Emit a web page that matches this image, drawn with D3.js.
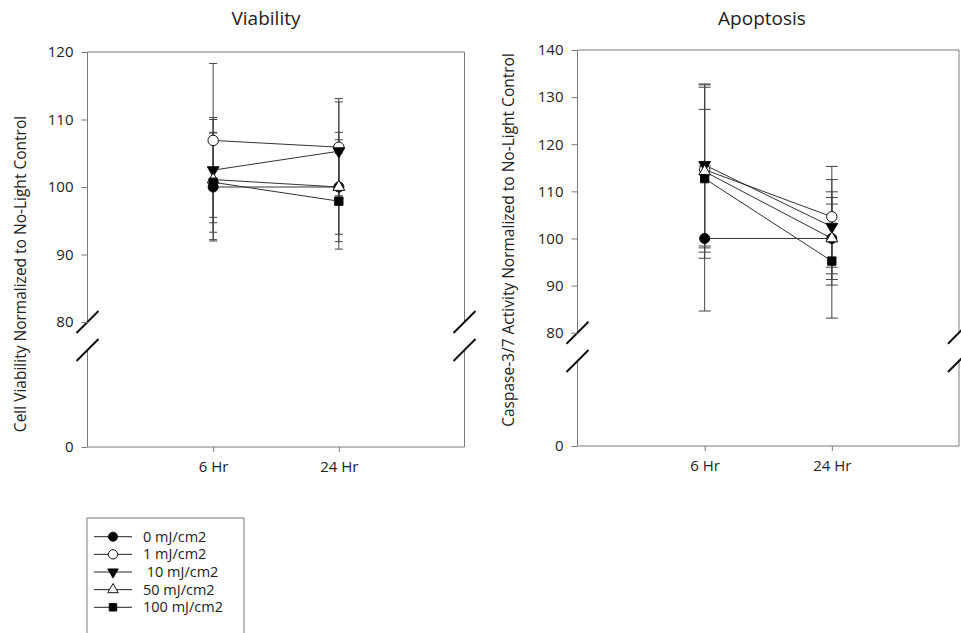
<!DOCTYPE html>
<html>
<head>
<meta charset="utf-8">
<script src="https://cdn.jsdelivr.net/npm/d3@7"></script>
<style>
  body { margin: 0; background: #fff; }
  svg text { font-family: "Open Sans", sans-serif; }
</style>
</head>
<body>
<svg id="chart" width="961" height="633"></svg>
<script>
// Data
const times = ["6 Hr", "24 Hr"];
const doses = ["0 mJ/cm2", "1 mJ/cm2", " 10 mJ/cm2", "50 mJ/cm2", "100 mJ/cm2"];

// Viability (values at 6 Hr, 24 Hr) and +/- error
const viab0 = [100.0, 100.0],   viabErr0 = [8.0, 7.0];
const viab1 = [106.9, 105.9],   viabErr1 = [11.4, 7.2];
const viab10 = [102.5, 105.3],  viabErr10 = [7.8, 7.3];
const viab50 = [101.1, 100.0],  viabErr50 = [8.9, 8.1];
const viab100 = [100.7, 97.9],  viabErr100 = [7.4, 7.1];

// Caspase-3/7 activity
const casp0 = [100.0, 100.0],   caspErr0 = [15.4, 8.7];
const casp1 = [114.6, 104.6],   caspErr1 = [17.5, 10.7];
const casp10 = [115.6, 102.5],  caspErr10 = [17.2, 10.0];
const casp50 = [114.2, 100.0],  caspErr50 = [18.4, 9.9];
const casp100 = [112.7, 95.2],  caspErr100 = [14.7, 12.1];

const viabTicks = [80, 90, 100, 110, 120];
const caspTicks = [80, 90, 100, 110, 120, 130, 140];

const markers = [
  { type: d3.symbolCircle, size: 80, fill: "#000", rot: 0 },
  { type: d3.symbolCircle, size: 85, fill: "#fff", rot: 0 },
  { type: d3.symbolTriangle, size: 60, fill: "#000", rot: 180 },
  { type: d3.symbolTriangle, size: 60, fill: "#fff", rot: 0 },
  { type: d3.symbolSquare, size: 70, fill: "#000", rot: 0 }
];

const svg = d3.select("#chart");

function drawPanel(p) {
  const g = svg.append("g");
  const x = d3.scalePoint().domain(times).range([p.left, p.right]).padding(1);
  const yUp = d3.scaleLinear().domain([80, p.ticks[p.ticks.length - 1]]).range([p.y80, p.top]);
  const yLow = d3.scaleLinear().domain([0, 40]).range([p.y0, p.lowTop]);
  const y = v => (v >= 80 ? yUp(v) : yLow(v));

  // frame with break gaps
  const fc = "#7a7a7a";
  g.append("line").attr("x1", p.left).attr("x2", p.right).attr("y1", p.top).attr("y2", p.top).attr("stroke", fc);
  g.append("line").attr("x1", p.left).attr("x2", p.right).attr("y1", p.y0).attr("y2", p.y0).attr("stroke", fc);
  [p.left, p.right].forEach(xx => {
    g.append("line").attr("x1", xx).attr("x2", xx).attr("y1", p.top).attr("y2", p.y80).attr("stroke", fc);
    g.append("line").attr("x1", xx).attr("x2", xx).attr("y1", p.lowTop).attr("y2", p.y0).attr("stroke", fc);
    [p.y80, p.lowTop].forEach(yy => {
      g.append("line")
        .attr("x1", xx - 11).attr("y1", yy + 11)
        .attr("x2", xx + 11).attr("y2", yy - 11)
        .attr("stroke", "#111").attr("stroke-width", 2);
    });
  });

  // axes
  const axUp = g.append("g").attr("transform", `translate(${p.left},0)`)
    .call(d3.axisLeft(yUp).tickValues(p.ticks).tickSize(6).tickPadding(8));
  const axLow = g.append("g").attr("transform", `translate(${p.left},0)`)
    .call(d3.axisLeft(yLow).tickValues([0]).tickSize(6).tickPadding(8));
  const axX = g.append("g").attr("transform", `translate(0,${p.y0})`)
    .call(d3.axisBottom(x).tickSize(5).tickPadding(9));
  [axUp, axLow, axX].forEach(a => {
    a.attr("font-family", null).attr("font-size", 15);
    a.select(".domain").remove();
    a.selectAll(".tick line").attr("stroke", fc);
    a.selectAll(".tick text").attr("fill", "#222");
  });

  // title and y label
  g.append("text").attr("x", p.titleX).attr("y", 25).attr("text-anchor", "middle")
    .attr("font-size", 19).attr("fill", "#222").text(p.title);
  g.append("text")
    .attr("transform", `translate(${p.labelX},${p.labelY}) rotate(-90)`)
    .attr("text-anchor", "middle").attr("font-size", 15.5).attr("fill", "#222")
    .text(p.ylabel);

  // connecting lines
  const line = d3.line().x((d, i) => x(times[i])).y(d => y(d));
  p.series.forEach(s => {
    g.append("path").attr("d", line(s.vals)).attr("fill", "none")
      .attr("stroke", "#333").attr("stroke-width", 1);
  });

  // error bars
  p.series.forEach(s => {
    s.vals.forEach((v, i) => {
      const cx = x(times[i]);
      const e = s.err[i];
      g.append("line").attr("x1", cx).attr("x2", cx).attr("y1", y(v - e)).attr("y2", y(v + e))
        .attr("stroke", "#444").attr("stroke-width", 1);
      [v - e, v + e].forEach(c => {
        g.append("line").attr("x1", cx - p.cap).attr("x2", cx + p.cap).attr("y1", y(c)).attr("y2", y(c))
          .attr("stroke", "#444").attr("stroke-width", 1);
      });
    });
  });

  // markers
  p.series.forEach((s, k) => {
    const m = markers[k];
    s.vals.forEach((v, i) => {
      g.append("path")
        .attr("d", d3.symbol().type(m.type).size(m.size)())
        .attr("transform", `translate(${x(times[i])},${y(v)}) rotate(${m.rot})`)
        .attr("fill", m.fill).attr("stroke", "#111").attr("stroke-width", 1);
    });
  });
}

drawPanel({
  left: 87.5, right: 464.5, top: 52, y80: 322, lowTop: 350, y0: 447,
  ticks: viabTicks, cap: 4, title: "Viability", titleX: 266,
  ylabel: "Cell Viability Normalized to No-Light Control", labelX: 26, labelY: 274,
  series: [
    { vals: viab0, err: viabErr0 }, { vals: viab1, err: viabErr1 },
    { vals: viab10, err: viabErr10 }, { vals: viab50, err: viabErr50 },
    { vals: viab100, err: viabErr100 }
  ]
});

drawPanel({
  left: 577.5, right: 959, top: 50, y80: 332.7, lowTop: 361, y0: 446,
  ticks: caspTicks, cap: 6, title: "Apoptosis", titleX: 762,
  ylabel: "Caspase-3/7 Activity Normalized to No-Light Control", labelX: 514, labelY: 240,
  series: [
    { vals: casp0, err: caspErr0 }, { vals: casp1, err: caspErr1 },
    { vals: casp10, err: caspErr10 }, { vals: casp50, err: caspErr50 },
    { vals: casp100, err: caspErr100 }
  ]
});

// legend
const leg = svg.append("g");
leg.append("rect").attr("x", 87).attr("y", 518).attr("width", 157).attr("height", 130)
  .attr("fill", "none").attr("stroke", "#7a7a7a");
const ly = d3.scalePoint().domain(doses).range([536.7, 607.3]);
doses.forEach((d, k) => {
  const m = markers[k];
  const yy = ly(d);
  leg.append("line").attr("x1", 94).attr("x2", 132).attr("y1", yy).attr("y2", yy)
    .attr("stroke", "#222");
  leg.append("path")
    .attr("d", d3.symbol().type(m.type).size(m.size * 0.8)())
    .attr("transform", `translate(113,${yy}) rotate(${m.rot})`)
    .attr("fill", m.fill).attr("stroke", "#111");
  leg.append("text").attr("x", 143).attr("y", yy + 5).attr("font-size", 14.5)
    .style("white-space", "pre").attr("fill", "#222").text(d);
});
</script>
</body>
</html>
